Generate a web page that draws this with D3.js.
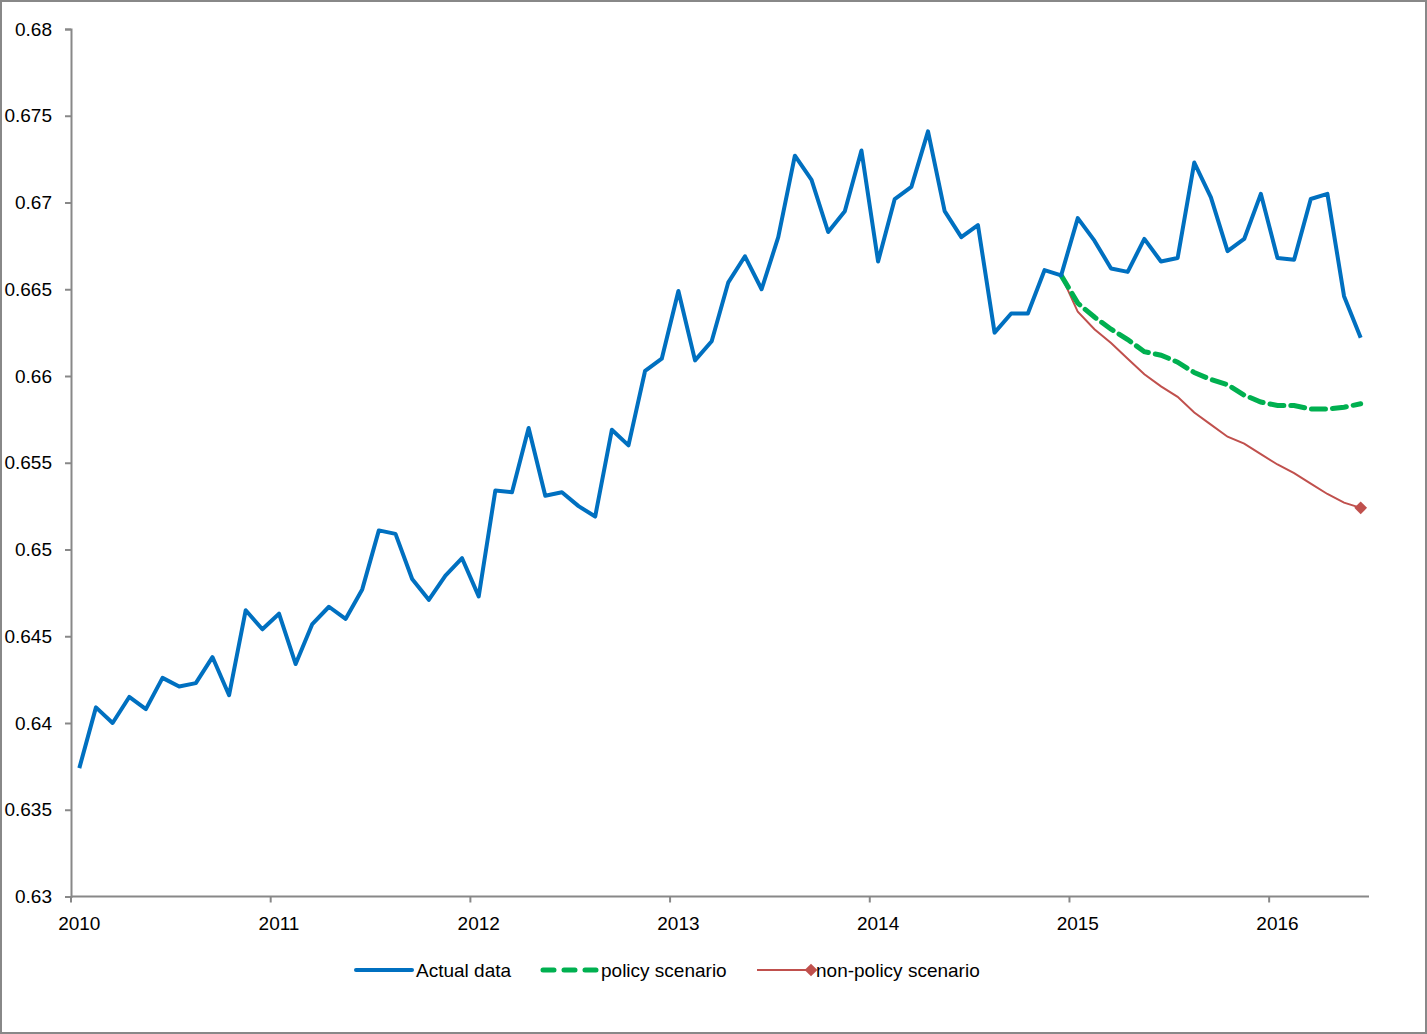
<!DOCTYPE html>
<html>
<head>
<meta charset="utf-8">
<script src="https://cdn.jsdelivr.net/npm/d3@7/dist/d3.min.js"></script>
<style>
  html, body { margin: 0; padding: 0; background: #fff; }
  svg { display: block; font-family: "Liberation Sans", Arial, sans-serif; }
</style>
</head>
<body>
<div id="chart"></div>
<script>
// Monthly series, Jan 2010 .. Jun 2016
var years = ["2010", "2011", "2012", "2013", "2014", "2015", "2016"];
var yTicks = [0.63, 0.635, 0.64, 0.645, 0.65, 0.655, 0.66, 0.665, 0.67, 0.675, 0.68];

var actual = [
  0.6374, 0.6409, 0.6400, 0.6415, 0.6408, 0.6426, 0.6421, 0.6423, 0.6438, 0.6416, 0.6465, 0.6454,
  0.6463, 0.6434, 0.6457, 0.6467, 0.6460, 0.6477, 0.6511, 0.6509, 0.6483, 0.6471, 0.6485, 0.6495,
  0.6473, 0.6534, 0.6533, 0.6570, 0.6531, 0.6533, 0.6525, 0.6519, 0.6569, 0.6560, 0.6603, 0.6610,
  0.6649, 0.6609, 0.6620, 0.6654, 0.6669, 0.6650, 0.6680, 0.6727, 0.6713, 0.6683, 0.6695, 0.6730,
  0.6666, 0.6702, 0.6709, 0.6741, 0.6695, 0.6680, 0.6687, 0.6625, 0.6636, 0.6636, 0.6661, 0.6658,
  0.6691, 0.6678, 0.6662, 0.6660, 0.6679, 0.6666, 0.6668, 0.6723, 0.6703, 0.6672, 0.6679, 0.6705,
  0.6668, 0.6667, 0.6702, 0.6705, 0.6646, 0.6622
];

// scenarios start from Dec 2014 (month index 59)
var scenarioStart = 59;
var policy = [
  0.6658, 0.6642, 0.6634, 0.6627, 0.6621, 0.6614, 0.6612, 0.6608, 0.6602, 0.6598,
  0.6595, 0.6589, 0.6585, 0.6583, 0.6583, 0.6581, 0.6581, 0.6582, 0.6584
];
var nonPolicy = [
  0.6658, 0.6637, 0.6627, 0.6619, 0.6610, 0.6601, 0.6594, 0.6588, 0.6579, 0.6572,
  0.6565, 0.6561, 0.6555, 0.6549, 0.6544, 0.6538, 0.6532, 0.6527, 0.6524
];

var width = 1427, height = 1034;
var plotLeft = 71, plotRight = 1369, plotTop = 29, plotBottom = 896.5;
var fontSize = "19px";

var svg = d3.select("#chart").append("svg")
  .attr("width", width)
  .attr("height", height);

// outer frame
svg.append("rect")
  .attr("x", 1).attr("y", 1)
  .attr("width", width - 2).attr("height", height - 2)
  .attr("fill", "#fff")
  .attr("stroke", "#888")
  .attr("stroke-width", 2);

// category axis: each month is one slot
var x = d3.scaleLinear()
  .domain([-0.5, actual.length - 0.5])
  .range([plotLeft, plotRight]);

var y = d3.scaleLinear()
  .domain([0.63, 0.68])
  .range([plotBottom, plotTop]);

var axisColor = "#888";

// y axis
var yAxis = svg.append("g")
  .attr("transform", "translate(" + plotLeft + ",0)")
  .call(d3.axisLeft(y).tickValues(yTicks).tickSize(6).tickPadding(13)
    .tickFormat(function(d) { return String(+d.toFixed(3)); }));
yAxis.select(".domain").attr("stroke", axisColor).attr("stroke-width", 2);
yAxis.selectAll(".tick line").attr("stroke", axisColor).attr("stroke-width", 2);
yAxis.selectAll(".tick text")
  .attr("fill", "#000")
  .style("font-size", fontSize)
  .style("font-family", "Liberation Sans, Arial, sans-serif");

// x axis line + year boundary ticks
var xg = svg.append("g");
xg.append("line")
  .attr("x1", plotLeft).attr("x2", plotRight)
  .attr("y1", plotBottom).attr("y2", plotBottom)
  .attr("stroke", axisColor).attr("stroke-width", 2);

xg.selectAll(".xtick")
  .data(years)
  .enter().append("line")
  .attr("class", "xtick")
  .attr("x1", function(d, i) { return x(i * 12 - 0.5); })
  .attr("x2", function(d, i) { return x(i * 12 - 0.5); })
  .attr("y1", plotBottom).attr("y2", plotBottom + 6)
  .attr("stroke", axisColor).attr("stroke-width", 2);

xg.selectAll(".xlabel")
  .data(years)
  .enter().append("text")
  .attr("class", "xlabel")
  .attr("x", function(d, i) { return x(i * 12); })
  .attr("y", plotBottom + 33)
  .attr("text-anchor", "middle")
  .style("font-size", fontSize)
  .text(function(d) { return d; });

// lines
var line = d3.line()
  .x(function(d) { return x(d.i); })
  .y(function(d) { return y(d.v); });

function toPoints(arr, offset) {
  return arr.map(function(v, k) { return {i: k + offset, v: v}; });
}

svg.append("path")
  .datum(toPoints(nonPolicy, scenarioStart))
  .attr("d", line)
  .attr("fill", "none")
  .attr("stroke", "#C0504D")
  .attr("stroke-width", 2);

svg.append("path")
  .datum(toPoints(policy, scenarioStart))
  .attr("d", line)
  .attr("fill", "none")
  .attr("stroke", "#00B050")
  .attr("stroke-width", 5)
  .attr("stroke-dasharray", "14,7")
  .attr("stroke-linecap", "round");

svg.append("path")
  .datum(toPoints(actual, 0))
  .attr("d", line)
  .attr("fill", "none")
  .attr("stroke", "#0070C0")
  .attr("stroke-width", 4)
  .attr("stroke-linejoin", "round");

// diamond marker (rotated square) at last non-policy point
var diamond = d3.symbol().type(d3.symbolSquare).size(81);
var lastNP = toPoints(nonPolicy, scenarioStart).slice(-1);
svg.selectAll(".np-marker")
  .data(lastNP)
  .enter().append("path")
  .attr("class", "np-marker")
  .attr("transform", function(d) { return "translate(" + x(d.i) + "," + y(d.v) + ") rotate(45)"; })
  .attr("d", diamond)
  .attr("fill", "#C0504D");

// legend
var legendY = 970;
var legend = svg.append("g");

legend.append("line")
  .attr("x1", 356).attr("x2", 412).attr("y1", legendY).attr("y2", legendY)
  .attr("stroke", "#0070C0").attr("stroke-width", 4).attr("stroke-linecap", "round");
legend.append("text").attr("x", 416).attr("y", legendY + 7)
  .style("font-size", fontSize).text("Actual data");

legend.append("line")
  .attr("x1", 543).attr("x2", 596).attr("y1", legendY).attr("y2", legendY)
  .attr("stroke", "#00B050").attr("stroke-width", 5)
  .attr("stroke-dasharray", "11,10").attr("stroke-linecap", "round");
legend.append("text").attr("x", 601).attr("y", legendY + 7)
  .style("font-size", fontSize).text("policy scenario");

legend.append("line")
  .attr("x1", 757).attr("x2", 811).attr("y1", legendY).attr("y2", legendY)
  .attr("stroke", "#C0504D").attr("stroke-width", 2);
legend.append("path")
  .attr("transform", "translate(811," + legendY + ") rotate(45)")
  .attr("d", diamond)
  .attr("fill", "#C0504D");
legend.append("text").attr("x", 816).attr("y", legendY + 7)
  .style("font-size", fontSize).text("non-policy scenario");
</script>
</body>
</html>
